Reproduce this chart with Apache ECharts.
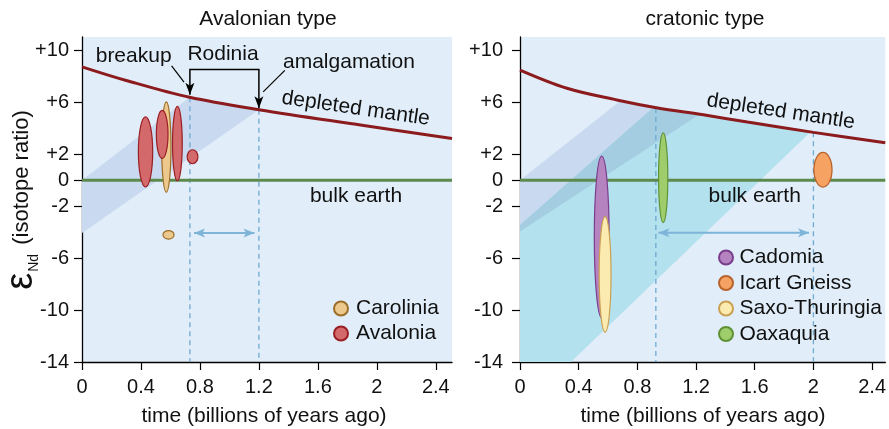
<!DOCTYPE html>
<html><head><meta charset="utf-8">
<script src="https://cdn.jsdelivr.net/npm/echarts@6/dist/echarts.min.js"></script>
<style>html,body{margin:0;padding:0;background:#fff}#c{width:889px;height:429px}</style>
</head><body><div id="c"></div>
<script>
// ---------- data ----------
const xTicks = [0, 0.4, 0.8, 1.2, 1.6, 2, 2.4];
const yTicks = [10, 6, 2, 0, -2, -6, -10, -14];
const xMaxLeft = 2.51, xMaxRight = 2.49, yMin = -14, yMax = 11.05;

// depleted mantle curves [time Ga, εNd]
const mantleLeft  = [[0, 8.75], [0.3, 7.7], [0.73, 6.4], [1.2, 5.45], [1.9, 4.25], [2.51, 3.22]];
const mantleRight = [[0, 8.5], [0.32, 7.1], [0.66, 6.2], [0.93, 5.6], [1.25, 5.05], [1.55, 4.5], [2.0, 3.7], [2.49, 2.9]];
const bulkEarthLeft  = [[0, 0], [2.51, 0]];
const bulkEarthRight = [[0, 0], [2.49, 0]];

// model-age bands (edges)
const bandLeftUpper = [[0, 0], [0.73, 6.4]];
const bandLeftLower = [[0, -4.05], [1.2, 5.45]];
const bandAUpper = [[0, 0], [0.685, 6.13]];
const bandALower = [[0, -3.95], [1.225, 5.09]];
const bandBUpper = [[0, -3.45], [0.91, 5.64]];
const bandBLower = [[0.347, -14], [1.98, 3.73]];

// dashed verticals [x, top]
const dashLeft  = [[0.732, 6.4], [1.2, 5.45]];
const dashRight = [[0.926, 5.58], [2.0, 3.7]];
// double arrows
const spanLeft  = [[0.76, -4.05], [1.17, -4.05]];
const spanRight = [[0.944, -4.03], [1.97, -4.03]];
// Rodinia bracket & pointers
const rodiniaBracket = [[0.732, 6.6], [0.732, 8.55], [1.2, 8.55], [1.2, 5.55]];
const breakupPointer = [[0.608, 8.82], [0.692, 7.58]];
const amalgPointer   = [[1.376, 8.48], [1.229, 6.82]];

// ellipses: [centre time, top ε, bottom ε, width Ga]
const carolinia = [[0.572, 6.05, -0.92, 0.063], [0.587, -3.87, -4.53, 0.075]];
const avalonia  = [[0.431, 4.9, -0.5, 0.097], [0.544, 5.4, 1.7, 0.079], [0.647, 5.7, -0.03, 0.066], [0.75, 2.36, 1.28, 0.073]];
const cadomia   = [[0.557, 1.87, -10.6, 0.101]];
const icart     = [[2.065, 2.15, -0.52, 0.124]];
const saxo      = [[0.58, -2.8, -11.7, 0.081]];
const oaxaquia  = [[0.976, 3.66, -3.26, 0.063]];

// ---------- styling ----------
const FONT = '"Liberation Sans", Arial, Helvetica, sans-serif';
const BG = '#e1eef9', LAV = '#c9d9ef', CYAN = '#b3e1ee', OVER = '#a5cde2';
const DASH = '#6ea9d2', SPAN = '#7db4d8';

function between(curve, a, b) { return curve.filter(p => p[0] > a && p[0] < b); }
const polyLeft = [[...bandLeftUpper, ...between(mantleLeft, bandLeftUpper[1][0], bandLeftLower[1][0]), bandLeftLower[1], bandLeftLower[0]], LAV];
const polyA = [[...bandAUpper, ...between(mantleRight, bandAUpper[1][0], bandALower[1][0]), bandALower[1], bandALower[0]], LAV];
const polyB = [[[0, yMin], ...bandBUpper, ...between(mantleRight, bandBUpper[1][0], bandBLower[1][0]), bandBLower[1], bandBLower[0]], CYAN];
const polyO = [[bandALower[0], bandBUpper[0], bandBUpper[1], ...between(mantleRight, bandBUpper[1][0], bandALower[1][0]), bandALower[1]], OVER];

function bandSeries(idx, polys) {
  return { type: 'custom', xAxisIndex: idx, yAxisIndex: idx, silent: true, z: 1, data: [[0, 0]],
    renderItem: (p, api) => ({ type: 'group', children: polys.map(([pts, c]) => ({
      type: 'polygon', shape: { points: pts.map(q => api.coord(q)) }, style: { fill: c } })) }) };
}
function dashSeries(idx, data) {
  return { type: 'custom', xAxisIndex: idx, yAxisIndex: idx, silent: true, z: 2, data,
    renderItem: (p, api) => {
      const a = api.coord([api.value(0), api.value(1)]), b = api.coord([api.value(0), yMin]);
      return { type: 'line', shape: { x1: a[0], y1: a[1], x2: b[0], y2: b[1] },
        style: { stroke: DASH, lineWidth: 1.3, lineDash: [5, 4] } };
    } };
}
function head(tip, from, len, hw, color) {
  const dx = tip[0] - from[0], dy = tip[1] - from[1], L = Math.hypot(dx, dy);
  const ux = dx / L, uy = dy / L, nx = -uy, ny = ux;
  const bx = tip[0] - ux * len, by = tip[1] - uy * len;
  const nxp = tip[0] - ux * len * 0.75, nyp = tip[1] - uy * len * 0.75;
  return { type: 'polygon', shape: { points: [tip, [bx + nx * hw, by + ny * hw], [nxp, nyp], [bx - nx * hw, by - ny * hw]] }, style: { fill: color } };
}
function lineEl(a, b, color, w) {
  return { type: 'line', shape: { x1: a[0], y1: a[1], x2: b[0], y2: b[1] }, style: { stroke: color, lineWidth: w } };
}
function annoSeries(idx, builder) {
  return { type: 'custom', xAxisIndex: idx, yAxisIndex: idx, silent: true, z: 6, data: [[0, 0]],
    renderItem: (p, api) => ({ type: 'group', children: builder(api) }) };
}
function doubleArrow(api, span) {
  const a = api.coord(span[0]), b = api.coord(span[1]);
  return [lineEl(a, b, SPAN, 2), head(a, b, 11, 4.5, SPAN), head(b, a, 11, 4.5, SPAN)];
}
function ellipseSeries(idx, name, data, fill, stroke) {
  return { type: 'custom', name, xAxisIndex: idx, yAxisIndex: idx, z: 5, data,
    itemStyle: { color: fill, borderColor: stroke, borderWidth: 1.2 },
    renderItem: (p, api) => {
      const cx = api.value(0), t = api.value(1), bt = api.value(2), w = api.value(3);
      const p1 = api.coord([cx - w / 2, t]), p2 = api.coord([cx + w / 2, bt]);
      return { type: 'ellipse', shape: { cx: (p1[0] + p2[0]) / 2, cy: (p1[1] + p2[1]) / 2, rx: (p2[0] - p1[0]) / 2, ry: (p2[1] - p1[1]) / 2 },
        style: { fill, stroke, lineWidth: 1.2 } };
    } };
}
function xAxis(idx, max, margin) {
  return { type: 'value', gridIndex: idx, min: 0, max,
    axisLine: { show: true, onZero: false, lineStyle: { color: '#000', width: 1.3 } },
    axisTick: { show: true, inside: false, customValues: xTicks, length: 8, lineStyle: { color: '#000', width: 1.2 } },
    axisLabel: { customValues: xTicks, fontSize: 20, color: '#111', fontFamily: FONT, margin },
    splitLine: { show: false } };
}
function yAxis(idx, margin) {
  return { type: 'value', gridIndex: idx, min: yMin, max: yMax,
    axisLine: { show: true, onZero: false, lineStyle: { color: '#000', width: 1.3 } },
    axisTick: { show: true, inside: false, customValues: yTicks, length: 8, lineStyle: { color: '#000', width: 1.2 } },
    axisLabel: { customValues: yTicks, fontSize: 20, color: '#111', fontFamily: FONT, margin,
      formatter: v => (v > 0 ? '+' + v : '' + v) },
    splitLine: { show: false } };
}
function txt(text, x, y, opts = {}) {
  return { type: 'text', x, y, rotation: opts.rot || 0, z: 10,
    style: { text, font: (opts.size || 21) + 'px ' + FONT, fill: '#111', align: opts.align || 'center', verticalAlign: 'middle', rich: opts.rich } };
}

const chart = echarts.init(document.getElementById('c'), null, { renderer: 'canvas' });
chart.setOption({
  animation: false,
  textStyle: { fontFamily: FONT },
  grid: [
    { left: 82, top: 37, width: 370, height: 325, show: true, backgroundColor: BG, borderWidth: 0 },
    { left: 520, top: 37, width: 369, height: 325, show: true, backgroundColor: BG, borderWidth: 0 }
  ],
  xAxis: [xAxis(0, xMaxLeft, 15), xAxis(1, xMaxRight, 15)],
  yAxis: [yAxis(0, 13), yAxis(1, 17)],
  legend: [
    { data: ['Carolinia', 'Avalonia'], orient: 'vertical', left: 333, top: 298, padding: 0, itemWidth: 14, itemHeight: 14, itemGap: 4,
      icon: 'circle', selectedMode: false, textStyle: { fontSize: 21, lineHeight: 21, color: '#111', fontFamily: FONT, padding: [0, 0, 0, 3] } },
    { data: ['Cadomia', 'Icart Gneiss', 'Saxo-Thuringia', 'Oaxaquia'], orient: 'vertical', left: 718, top: 247, padding: 0, itemWidth: 14, itemHeight: 14, itemGap: 4.5,
      icon: 'circle', selectedMode: false, textStyle: { fontSize: 21, lineHeight: 21, color: '#111', fontFamily: FONT, padding: [0, 0, 0, 1.5] } }
  ],
  series: [
    bandSeries(0, [polyLeft]),
    bandSeries(1, [polyA, polyB, polyO]),
    dashSeries(0, dashLeft),
    dashSeries(1, dashRight),
    { type: 'line', xAxisIndex: 0, yAxisIndex: 0, data: bulkEarthLeft, symbol: 'none', silent: true, z: 3, lineStyle: { color: '#5b8a4c', width: 3 } },
    { type: 'line', xAxisIndex: 1, yAxisIndex: 1, data: bulkEarthRight, symbol: 'none', silent: true, z: 3, lineStyle: { color: '#5b8a4c', width: 3 } },
    { type: 'line', xAxisIndex: 0, yAxisIndex: 0, data: mantleLeft, smooth: 0.35, symbol: 'none', silent: true, z: 3, lineStyle: { color: '#8c1b1e', width: 3 } },
    { type: 'line', xAxisIndex: 1, yAxisIndex: 1, data: mantleRight, smooth: 0.35, symbol: 'none', silent: true, z: 3, lineStyle: { color: '#8c1b1e', width: 3 } },
    ellipseSeries(0, 'Carolinia', carolinia, '#ecc88c', '#9c6e2a'),
    ellipseSeries(0, 'Avalonia', avalonia, '#d4696b', '#9a1f24'),
    ellipseSeries(1, 'Cadomia', cadomia, '#b583bf', '#7a3d8c'),
    ellipseSeries(1, 'Icart Gneiss', icart, '#f6a263', '#b8622c'),
    ellipseSeries(1, 'Saxo-Thuringia', saxo, '#fbebb0', '#caa052'),
    ellipseSeries(1, 'Oaxaquia', oaxaquia, '#9fcd6c', '#5f9236'),
    annoSeries(0, api => {
      const pts = rodiniaBracket.map(q => api.coord(q));
      const bp = breakupPointer.map(q => api.coord(q)), ap = amalgPointer.map(q => api.coord(q));
      return [
        { type: 'polyline', shape: { points: pts }, style: { stroke: '#000', lineWidth: 1.5, fill: null } },
        head(pts[0], pts[1], 12, 4.5, '#000'), head(pts[3], pts[2], 12, 4.5, '#000'),
        lineEl(bp[0], bp[1], '#000', 1.2), lineEl(ap[0], ap[1], '#000', 1.2),
        ...doubleArrow(api, spanLeft)
      ];
    }),
    annoSeries(1, api => doubleArrow(api, spanRight))
  ],
  graphic: [
    txt('Avalonian type', 268, 19),
    txt('cratonic type', 705, 19),
    txt('time (billions of years ago)', 264, 416),
    txt('time (billions of years ago)', 703, 416),
    txt('breakup', 95.7, 56, { align: 'left' }),
    txt('Rodinia', 223, 54.3),
    txt('amalgamation', 283, 62, { align: 'left' }),
    txt('depleted mantle', 355.8, 108.5, { rot: -0.145 }),
    txt('bulk earth', 356, 196.5),
    txt('depleted mantle', 780.7, 111.5, { rot: -0.15 }),
    txt('bulk earth', 754.7, 196),
    txt('{e|ε}{s|Nd} (isotope ratio)', 22, 200, { rot: Math.PI / 2, size: 22,
      rich: { e: { fontSize: 38, fontFamily: FONT, fill: '#111', verticalAlign: 'bottom' }, s: { fontSize: 14, fontFamily: FONT, fill: '#111', verticalAlign: 'bottom', padding: [0, 3, 0, 1] } } })
  ]
});
</script>
</body></html>
